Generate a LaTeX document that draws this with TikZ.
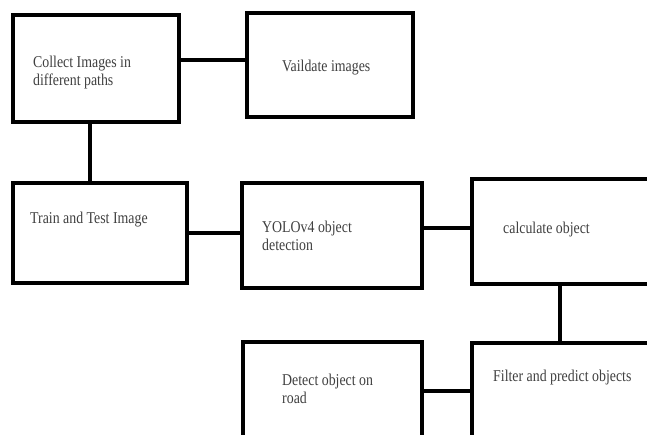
\documentclass[tikz,border=0pt]{standalone}
\usepackage{fontspec}
\setmainfont{Liberation Serif}[FakeStretch=0.84]
\begin{document}
\begin{tikzpicture}[x=1pt,y=-1pt,
  box/.style={draw=black,line width=4.4pt,rectangle,inner sep=0pt},
  lbl/.style={anchor=west,inner sep=0pt,align=left,text=black!75,
    font=\fontsize{16.5}{18.5}\selectfont},
  link/.style={draw=black,line width=3.8pt}]
\useasboundingbox (0,0) rectangle (647,435);
\clip (0,0) rectangle (647,435);
\fill[white] (0,0) rectangle (647,435);
% boxes
\node[box,minimum width=166pt,minimum height=107pt] (b1) at (96,68.5) {};
\node[box,minimum width=166pt,minimum height=104pt] (b2) at (330,65) {};
\node[box,minimum width=174pt,minimum height=100pt] (b3) at (100,233) {};
\node[box,minimum width=180pt,minimum height=105pt] (b4) at (332,235.5) {};
\node[box,minimum width=188pt,minimum height=105pt] (b5) at (566,231.5) {};
\node[box,minimum width=179pt,minimum height=108pt] (b6) at (332.5,396) {};
\node[box,minimum width=188pt,minimum height=107pt] (b7) at (566,396.5) {};
% texts
\node[lbl] (t1) at (33,72.5) {Collect Images in\\different paths};
\node[lbl] (t2) at (282,68) {Vaildate images};
\node[lbl] (t3) at (30,220) {Train and Test Image};
\node[lbl] (t4) at (262,236) {YOLOv4 object\\detection};
\node[lbl] (t5) at (503,230) {calculate object};
\node[lbl] (t6) at (282,389) {Detect object on\\road};
\node[lbl] (t7) at (493,378) {Filter and predict objects};
% connectors
\draw[link] (b1.east |- 0,60) -- (b2.west |- 0,60);
\draw[link] (b1.south -| 90,0) -- (b3.north -| 90,0);
\draw[link] (b3.east) -- (b4.west |- b3.east);
\draw[link] (b4.east |- 0,228) -- (b5.west |- 0,228);
\draw[link] (b5.south -| 560,0) -- (b7.north -| 560,0);
\draw[link] (b6.east |- 0,391) -- (b7.west |- 0,391);
\end{tikzpicture}
\end{document}
